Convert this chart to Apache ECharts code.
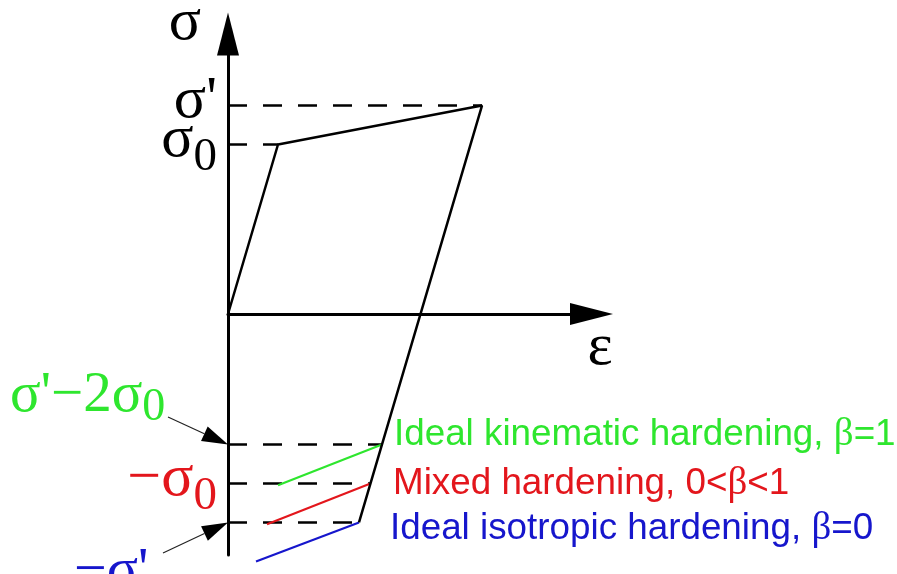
<!DOCTYPE html>
<html>
<head>
<meta charset="utf-8">
<script src="https://cdn.jsdelivr.net/npm/echarts@6/dist/echarts.min.js"></script>
<style>
  html, body { margin: 0; padding: 0; background: #fff; }
  #chart { width: 897px; height: 574px; }
</style>
</head>
<body>
<div id="chart"></div>
<script>
// Stress–strain path (ε, σ): elastic loading, hardening up to σ', elastic unloading down to −σ'
const loadPath = [[0, 0], [1.0, 1.0], [5.08, 1.23], [2.62, -1.23]];

// Reference stress levels and the strain at which each dashed guide ends
const levelNames = ["σ'", 'σ0', "σ'−2σ0", '−σ0', "−σ'"];
const levelStress = [1.23, 1.0, -0.77, -1.0, -1.23];
const levelStrainEnd = [5.08, 1.0, 3.08, 2.85, 2.62];

// Reverse-yield lines for the three hardening rules
const kinematicLine = [[1.0, -1.01], [3.08, -0.77]];
const mixedLine = [[0.78, -1.24], [2.85, -1.0]];
const isotropicLine = [[0.56, -1.46], [2.62, -1.23]];

// Hardening rule captions
const ruleNames = ['Ideal kinematic hardening, ', 'Mixed hardening, ', 'Ideal isotropic hardening, '];
const ruleBeta = ['β=1', '0<β<1', 'β=0'];

// Pointer arrows [ε start, σ start, ε tip, σ tip] from offset captions to their levels
const pointerData = [
  [-1.2, -0.608, 0, -0.77],
  [-1.3, -1.41, 0, -1.23]
];

const GREEN = '#2ee62e';
const RED = '#e3161c';
const BLUE = '#1616cc';
const SERIF = '"Liberation Serif", "Times New Roman", serif';
const SANS = '"Liberation Sans", Arial, sans-serif';

const SIGMA_MIN = -1.422;
const SIGMA_MAX = 1.652;

// Turn a level name like "−σ0" into rich text with a subscript zero
function richName(name, key) {
  if (name.endsWith('0')) {
    return '{' + key + '|' + name.slice(0, -1) + '}{' + key + 'Sub|0}';
  }
  return '{' + key + '|' + name + '}';
}

// Levels labelled directly on the σ axis (split over two overlaid axes so close labels all show)
const axisLevelIdxA = [3, 0];
const axisLevelIdxB = [1];
const axisLevelKey = { 0: 'k', 1: 'k', 3: 'r' };

const chart = echarts.init(document.getElementById('chart'), null, { renderer: 'canvas' });

const dashedSeries = levelStress.map((s, i) => ({
  type: 'line',
  data: [[0, s], [levelStrainEnd[i], s]],
  symbol: 'none',
  silent: true,
  clip: false,
  z: 1,
  lineStyle: { color: '#000', width: 2.5, type: [19, 16] }
}));

function ruleSeries(data, color) {
  return {
    type: 'line',
    data: data,
    symbol: 'none',
    silent: true,
    clip: false,
    z: 2,
    lineStyle: { color: color, width: 2.2 }
  };
}

function richStyles(color) {
  return {
    main: { fontFamily: SERIF, fontSize: 60, lineHeight: 22, color: color },
    sub: { fontFamily: SERIF, fontSize: 47, lineHeight: 22, color: color, padding: [17, 0, -17, 0] }
  };
}
const kRich = richStyles('#000');
const rRich = richStyles(RED);

function levelAxisLabel(idxList) {
  return {
    show: true,
    customValues: idxList.map(i => levelStress[i]),
    showMinLabel: true,
    showMaxLabel: true,
    margin: 11,
    padding: [0, 0, 8, 0],
    formatter: function (v) {
      const i = levelStress.indexOf(v);
      return i < 0 ? '' : richName(levelNames[i], axisLevelKey[i]);
    },
    rich: {
      k: kRich.main, kSub: kRich.sub,
      r: rRich.main, rSub: rRich.sub
    }
  };
}

const captionY = [435, 483.5, 529];
const captionX = [394, 393, 390];
const captionColor = [GREEN, RED, BLUE];

const graphics = ruleNames.map((n, i) => ({
  type: 'text',
  silent: true,
  style: {
    text: '{a|' + n + '}{b|' + ruleBeta[i].replace('β', '}{c|β}{b|') + '}',
    x: captionX[i],
    y: captionY[i],
    align: 'left',
    verticalAlign: 'middle',
    rich: {
      a: { fontFamily: SANS, fontSize: 36.8, fill: captionColor[i] },
      b: { fontFamily: SANS, fontSize: 36.8, fill: captionColor[i] },
      c: { fontFamily: SERIF, fontSize: 39, fill: captionColor[i] }
    }
  }
}));

// Captions for the two levels reached through pointer arrows
graphics.push({
  type: 'text', silent: true,
  style: {
    text: richName(levelNames[2], 'g'),
    x: 10, y: 396, align: 'left', verticalAlign: 'middle',
    rich: {
      g: { fontFamily: SERIF, fontSize: 57, fill: GREEN },
      gSub: { fontFamily: SERIF, fontSize: 46, fill: GREEN, padding: [24, 0, 0, 0] }
    }
  }
});
graphics.push({
  type: 'text', silent: true,
  style: {
    text: richName(levelNames[4], 'b'),
    x: 74, y: 572, align: 'left', verticalAlign: 'middle',
    rich: {
      b: { fontFamily: SERIF, fontSize: 58, fill: BLUE }
    }
  }
});

const option = {
  animation: false,
  backgroundColor: '#fff',
  grid: { left: 228, right: 305.5, top: 34, bottom: 19, outerBoundsMode: 'none' },
  xAxis: {
    type: 'value',
    min: 0,
    max: 7.27,
    axisLine: {
      onZero: true,
      symbol: ['none', 'triangle'],
      symbolSize: [22, 43],
      lineStyle: { color: '#000', width: 3 }
    },
    axisTick: { show: false },
    axisLabel: { show: false },
    splitLine: { show: false },
    name: 'ε',
    nameLocation: 'end',
    nameGap: -4,
    nameTextStyle: {
      fontFamily: SERIF, fontSize: 60, color: '#000',
      verticalAlign: 'top', padding: [4, 0, 0, 0]
    }
  },
  yAxis: [
    {
      type: 'value',
      position: 'left',
      min: SIGMA_MIN,
      max: SIGMA_MAX,
      axisLine: {
        onZero: true,
        symbol: ['none', 'triangle'],
        symbolSize: [22, 43],
        lineStyle: { color: '#000', width: 3 }
      },
      axisTick: { show: false },
      splitLine: { show: false },
      axisLabel: levelAxisLabel(axisLevelIdxA),
      name: 'σ',
      nameLocation: 'end',
      nameGap: -19,
      nameTextStyle: { fontFamily: SERIF, fontSize: 60, color: '#000', padding: [0, 86, 0, 0] }
    },
    {
      type: 'value',
      position: 'left',
      offset: 0,
      min: SIGMA_MIN,
      max: SIGMA_MAX,
      axisLine: { show: false, onZero: false },
      axisTick: { show: false },
      splitLine: { show: false },
      axisLabel: levelAxisLabel(axisLevelIdxB)
    }
  ],
  graphic: graphics,
  series: [
    ...dashedSeries,
    {
      type: 'line',
      name: 'loading path',
      data: loadPath,
      symbol: 'none',
      silent: true,
      clip: false,
      z: 3,
      lineStyle: { color: '#000', width: 2.5 }
    },
    ruleSeries(kinematicLine, GREEN),
    ruleSeries(mixedLine, RED),
    ruleSeries(isotropicLine, BLUE),
    {
      type: 'custom',
      silent: true,
      clip: false,
      z: 4,
      data: pointerData,
      encode: { x: [0, 2], y: [1, 3] },
      renderItem: function (params, api) {
        const p0 = api.coord([api.value(0), api.value(1)]);
        const p1 = api.coord([api.value(2), api.value(3)]);
        const dx = p1[0] - p0[0], dy = p1[1] - p0[1];
        const len = Math.hypot(dx, dy);
        const ux = dx / len, uy = dy / len;
        const L = 26, W = 16;
        const bx = p1[0] - ux * L, by = p1[1] - uy * L;
        return {
          type: 'group',
          children: [
            { type: 'line', shape: { x1: p0[0], y1: p0[1], x2: bx, y2: by }, style: { stroke: '#222', lineWidth: 1.2 } },
            {
              type: 'polygon',
              shape: { points: [[p1[0], p1[1]], [bx - uy * W / 2, by + ux * W / 2], [bx + uy * W / 2, by - ux * W / 2]] },
              style: { fill: '#000' }
            }
          ]
        };
      }
    }
  ]
};

chart.setOption(option);
</script>
</body>
</html>
